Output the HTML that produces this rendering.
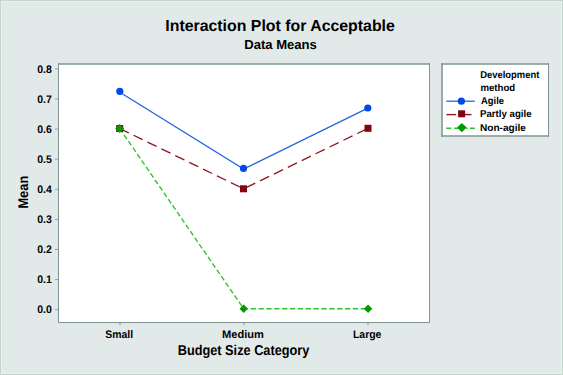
<!DOCTYPE html>
<html><head><meta charset="utf-8">
<style>
html,body{margin:0;padding:0;}
body{width:563px;height:375px;overflow:hidden;background:#e1eae9;}
svg{display:block;}
text{font-family:"Liberation Sans",sans-serif;font-weight:bold;fill:#000;text-rendering:geometricPrecision;}
</style></head>
<body>
<svg width="563" height="375" viewBox="0 0 563 375">
<rect x="0" y="0" width="563" height="375" fill="#e1eae9"/>
<rect x="1.5" y="1.5" width="560" height="372" fill="none" stroke="#e9f0ef" stroke-width="1"/>
<rect x="0.5" y="0.5" width="562" height="374" fill="none" stroke="#c4d5ce" stroke-width="1"/>

<!-- titles -->
<text x="165.31" y="31" font-size="16" textLength="229.54" lengthAdjust="spacingAndGlyphs">Interaction Plot for Acceptable</text>
<text x="244.2" y="48.7" font-size="13.2" textLength="72.68" lengthAdjust="spacingAndGlyphs">Data Means</text>

<!-- plot area -->
<rect x="58" y="63.5" width="372" height="259.5" fill="#fff"/>
<g stroke="#7f9592" fill="none">
<line x1="58" y1="64" x2="430" y2="64" stroke-width="1.6"/>
<line x1="58.5" y1="63.2" x2="58.5" y2="323" stroke-width="1"/>
<line x1="429.5" y1="63.2" x2="429.5" y2="323" stroke-width="1"/>
<line x1="58" y1="322.5" x2="430" y2="322.5" stroke-width="1"/>
</g>

<!-- y ticks -->
<g stroke="#8fa4a1" stroke-width="1">
<line x1="55" y1="68.9" x2="58" y2="68.9"/>
<line x1="55" y1="99.0" x2="58" y2="99.0"/>
<line x1="55" y1="129.1" x2="58" y2="129.1"/>
<line x1="55" y1="159.2" x2="58" y2="159.2"/>
<line x1="55" y1="189.3" x2="58" y2="189.3"/>
<line x1="55" y1="219.4" x2="58" y2="219.4"/>
<line x1="55" y1="249.5" x2="58" y2="249.5"/>
<line x1="55" y1="279.6" x2="58" y2="279.6"/>
<line x1="55" y1="309.7" x2="58" y2="309.7"/>
<line x1="120" y1="323" x2="120" y2="325.5"/>
<line x1="244" y1="323" x2="244" y2="325.5"/>
<line x1="368" y1="323" x2="368" y2="325.5"/>
</g>
<g font-size="11">
<text x="37.2" y="72.65" textLength="14.58" lengthAdjust="spacingAndGlyphs">0.8</text>
<text x="37.2" y="102.75" textLength="14.58" lengthAdjust="spacingAndGlyphs">0.7</text>
<text x="37.2" y="132.85" textLength="14.58" lengthAdjust="spacingAndGlyphs">0.6</text>
<text x="37.2" y="162.95" textLength="14.58" lengthAdjust="spacingAndGlyphs">0.5</text>
<text x="37.2" y="193.05" textLength="14.58" lengthAdjust="spacingAndGlyphs">0.4</text>
<text x="37.2" y="223.15" textLength="14.58" lengthAdjust="spacingAndGlyphs">0.3</text>
<text x="37.2" y="253.25" textLength="14.58" lengthAdjust="spacingAndGlyphs">0.2</text>
<text x="37.2" y="283.35" textLength="14.58" lengthAdjust="spacingAndGlyphs">0.1</text>
<text x="37.2" y="313.45" textLength="14.58" lengthAdjust="spacingAndGlyphs">0.0</text>
</g>
<g font-size="11">
<text x="105.25" y="337.6" textLength="27.89" lengthAdjust="spacingAndGlyphs">Small</text>
<text x="221.99" y="337.6" textLength="41.87" lengthAdjust="spacingAndGlyphs">Medium</text>
<text x="352.95" y="337.6" textLength="28.47" lengthAdjust="spacingAndGlyphs">Large</text>
</g>
<text x="177.71" y="355" font-size="14.3" textLength="131.67" lengthAdjust="spacingAndGlyphs">Budget Size Category</text>
<text transform="translate(28,208.6) rotate(-90)" x="0" y="0" font-size="14" textLength="32.85" lengthAdjust="spacingAndGlyphs">Mean</text>

<!-- data lines -->
<polyline points="119.8,92.3 243.6,169.1 367.8,108.2" fill="none" stroke="#1f66e0" stroke-width="1.3"/>
<line x1="119.7" y1="128.5" x2="243.6" y2="188.8" stroke="#8e1620" stroke-width="1.35" stroke-dasharray="10.1 5.35"/>
<line x1="243.6" y1="188.8" x2="368" y2="128.3" stroke="#8e1620" stroke-width="1.35" stroke-dasharray="10.1 5.35" stroke-dashoffset="12.6"/>
<line x1="119.7" y1="128.5" x2="243.7" y2="308.8" stroke="#2cc22c" stroke-width="1.35" stroke-dasharray="5.1 2.7" stroke-dashoffset="0.15"/>
<line x1="243.7" y1="308.8" x2="368" y2="308.8" stroke="#2cc22c" stroke-width="1.6" stroke-dasharray="5.3 2.56" stroke-dashoffset="0.9"/>

<!-- markers -->
<g fill="#0448e6">
<circle cx="119.8" cy="91.3" r="3.6"/>
<circle cx="243.5" cy="168.4" r="3.6"/>
<circle cx="367.8" cy="108" r="3.6"/>
</g>
<g fill="#82040e">
<rect x="116.2" y="125" width="7" height="7"/>
<rect x="240" y="185.3" width="7" height="7"/>
<rect x="364.5" y="124.8" width="7" height="7"/>
</g>
<g fill="#009a00">
<path d="M119.7,124 L124.3,128.5 L119.7,133 L115.1,128.5 Z"/>
<path d="M243.7,304.5 L247.9,308.8 L243.7,313.1 L239.5,308.8 Z"/>
<path d="M368.1,304.5 L372.3,308.8 L368.1,313.1 L363.9,308.8 Z"/>
</g>

<!-- legend -->
<rect x="441" y="63.5" width="108" height="73" fill="#fff"/>
<g stroke="#7f9592" fill="none">
<line x1="441" y1="64" x2="549" y2="64" stroke-width="1.6"/>
<line x1="441" y1="136" x2="549" y2="136" stroke-width="1.6"/>
<line x1="442" y1="63.2" x2="442" y2="136.8" stroke-width="1.6"/>
<line x1="548.5" y1="63.2" x2="548.5" y2="136.8" stroke-width="1"/>
</g>
<g font-size="10">
<text x="480.16" y="77.5" textLength="59.15" lengthAdjust="spacingAndGlyphs">Development</text>
<text x="480.44" y="90.8" textLength="34.77" lengthAdjust="spacingAndGlyphs">method</text>
<text x="481.0" y="104.0" textLength="23.03" lengthAdjust="spacingAndGlyphs">Agile</text>
<text x="480.03" y="117.3" textLength="51.61" lengthAdjust="spacingAndGlyphs">Partly agile</text>
<text x="479.99" y="130.6" textLength="45.98" lengthAdjust="spacingAndGlyphs">Non-agile</text>
</g>
<line x1="446.3" y1="101.2" x2="474.8" y2="101.2" stroke="#1f66e0" stroke-width="1.3"/>
<circle cx="461.4" cy="101.2" r="3.6" fill="#0448e6"/>
<line x1="446.5" y1="114.6" x2="456.1" y2="114.6" stroke="#8e1620" stroke-width="1.4"/>
<line x1="465" y1="114.6" x2="471.5" y2="114.6" stroke="#8e1620" stroke-width="1.4"/>
<rect x="458.1" y="110.3" width="7" height="7" fill="#82040e"/>
<g stroke="#2cc22c" stroke-width="1.6">
<line x1="446.2" y1="128.3" x2="451.3" y2="128.3"/>
<line x1="454.2" y1="128.3" x2="458" y2="128.3"/>
<line x1="466" y1="128.3" x2="467.5" y2="128.3"/>
<line x1="469.9" y1="128.3" x2="474.9" y2="128.3"/>
</g>
<path d="M461.8,123 L466.6,127.6 L461.8,132.2 L457,127.6 Z" fill="#009a00"/>
</svg>
</body></html>
